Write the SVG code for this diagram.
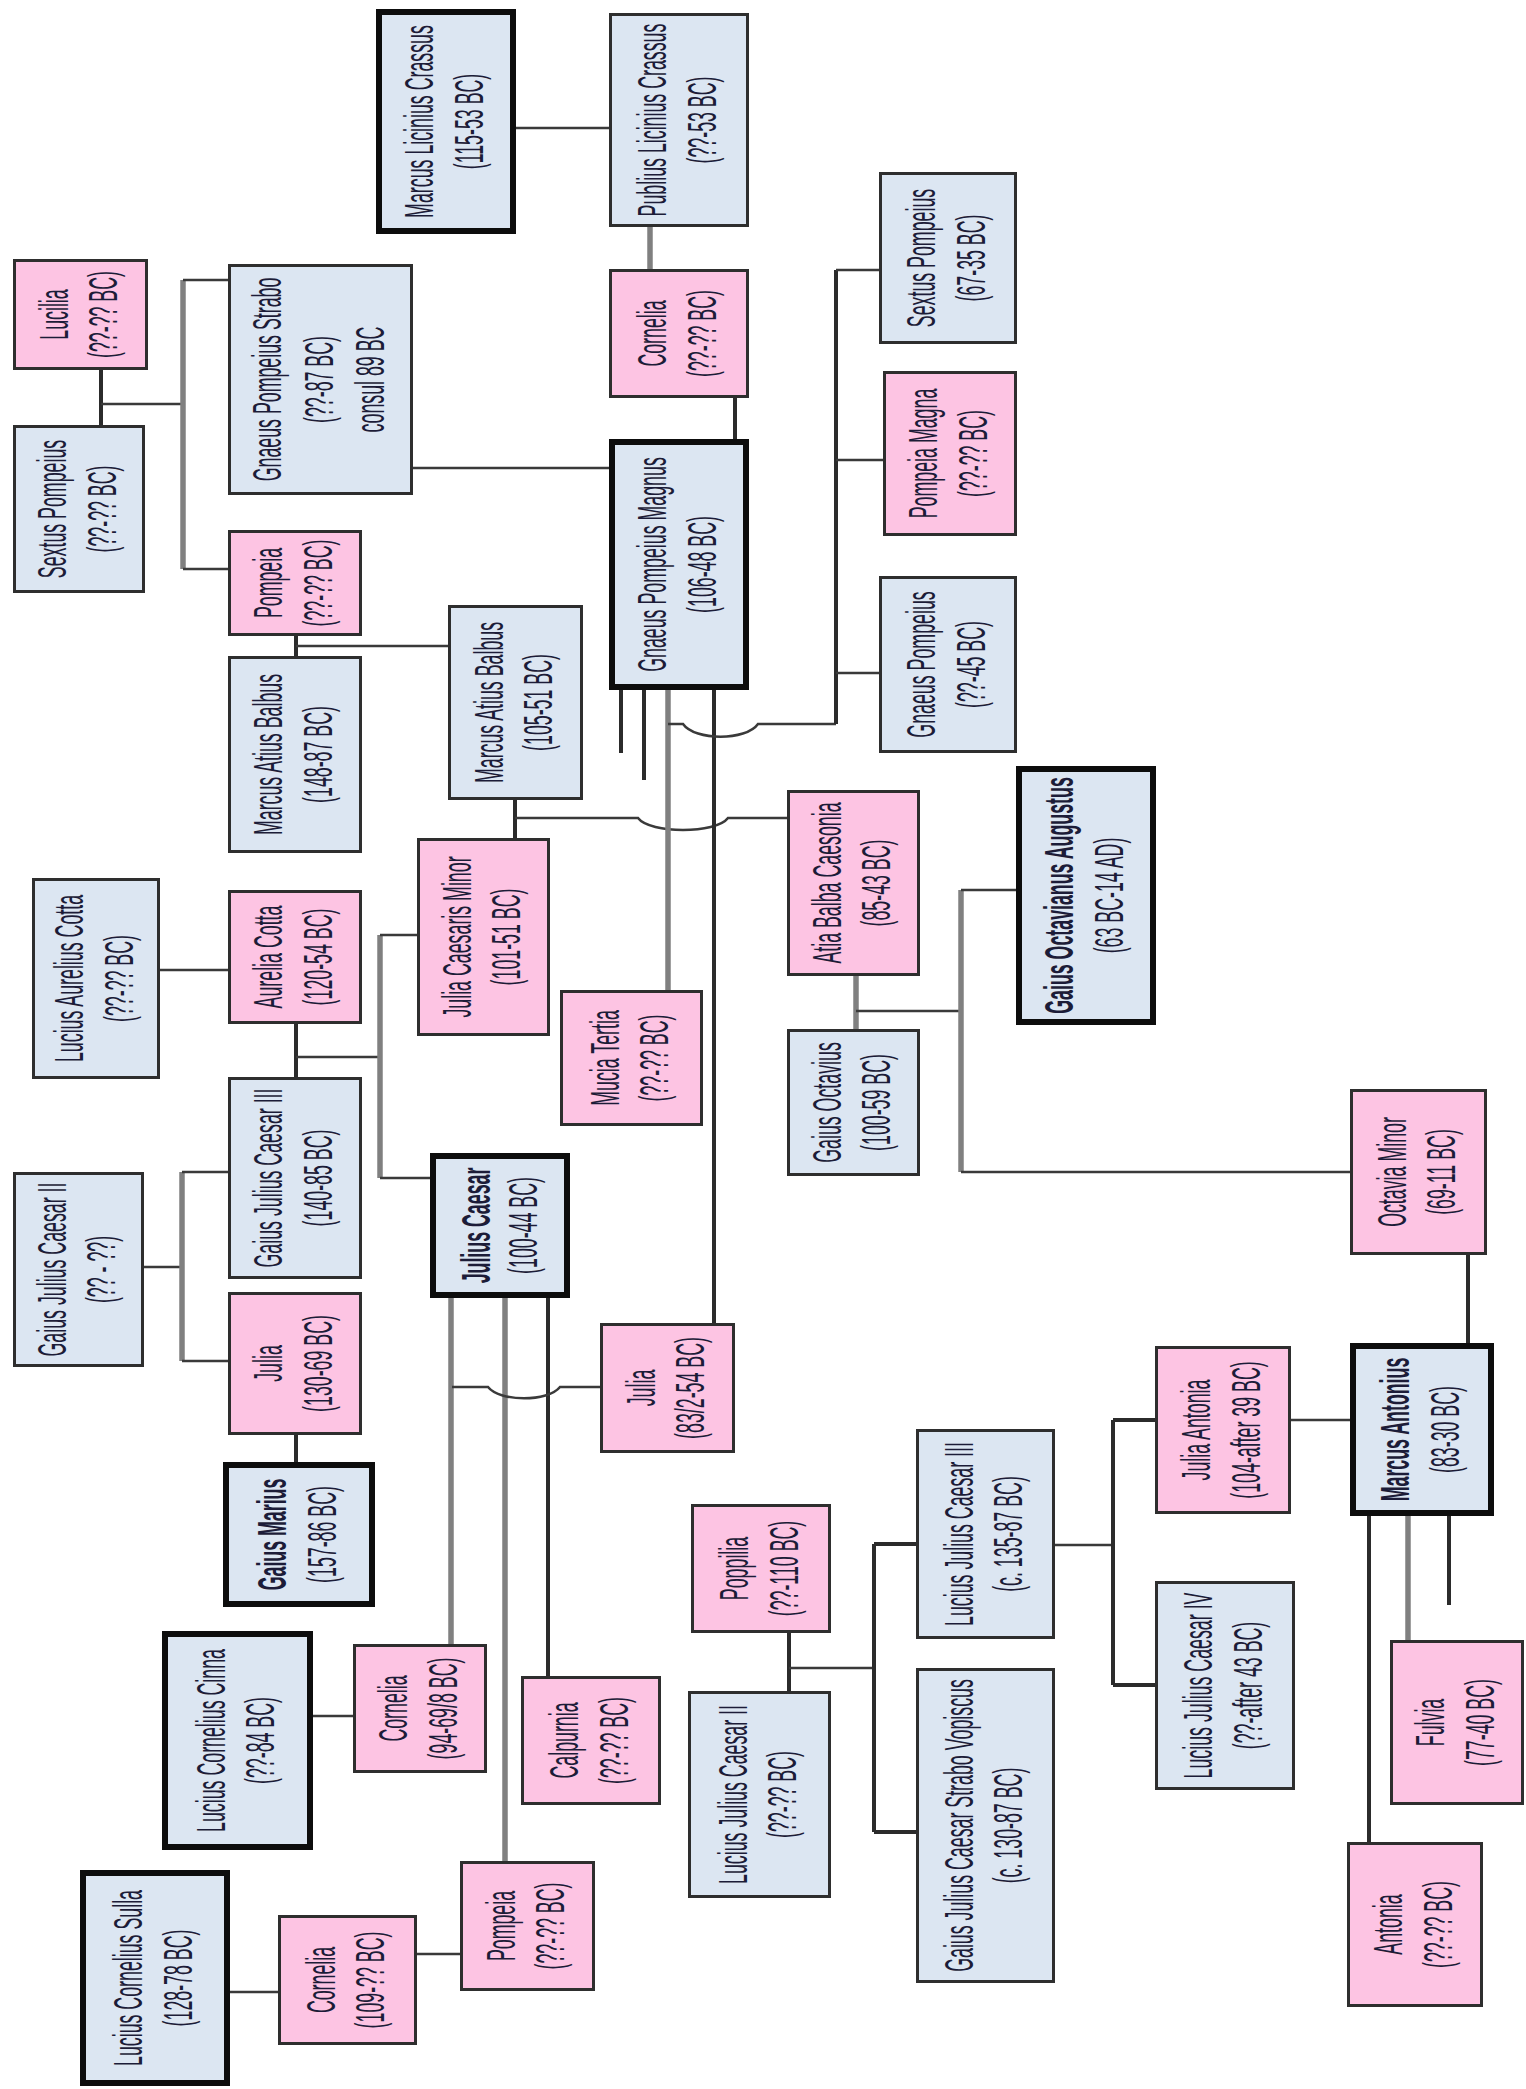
<svg xmlns="http://www.w3.org/2000/svg" width="1526" height="2089" viewBox="0 0 1526 2089">
<style>
.b{fill:#dce6f2;stroke:#2e2e2e;stroke-width:3}
.p{fill:#fdc4e3;stroke:#2e2e2e;stroke-width:3}
.k{stroke:#0d0d0d;stroke-width:6}
text{font-family:"Liberation Sans",Arial,sans-serif;font-size:40px;fill:#1c1c38;text-anchor:middle}
.bd{font-weight:bold}
.th{stroke:#3a3a3a;stroke-width:2.5;fill:none}
.dk{stroke:#2b2b2b;stroke-width:4;fill:none}
.gr{stroke:#808080;stroke-width:5.5;fill:none}
</style>
<rect width="1526" height="2089" fill="#ffffff"/>
<g id="connectors">
<path class="th" d="M516 128H609"/>
<path class="gr" d="M650 227V269"/>
<path class="dk" d="M735 398V439"/>
<path class="th" d="M413 468H609"/>
<path class="dk" d="M101 370V425"/>
<path class="th" d="M101 404H183"/>
<path class="gr" d="M183 280V569"/>
<path class="th" d="M183 280H228M183 569H228"/>
<path class="dk" d="M296 636V656"/>
<path class="th" d="M296 646H448"/>
<path class="dk" d="M515 800V838"/>
<path class="th" d="M515 818H638C650 834 716 834 728 818H787"/>
<path class="gr" d="M668 690V990"/>
<path class="dk" d="M714 690V1323"/>
<path class="dk" d="M621 690V753M644 690V780"/>
<path class="th" d="M668 724H683C695 741 746 741 758 724H836"/>
<path class="dk" d="M836 270V724"/>
<path class="th" d="M836 270H879M836 460H883M836 673H879"/>
<path class="gr" d="M856 976V1029"/>
<path class="th" d="M856 1011H961"/>
<path class="gr" d="M961 890V1172"/>
<path class="th" d="M961 890H1016M961 1172H1350"/>
<path class="th" d="M160 970H228"/>
<path class="dk" d="M296 1024V1077"/>
<path class="th" d="M296 1057H380"/>
<path class="gr" d="M380 935V1178"/>
<path class="th" d="M380 935H417M380 1178H430"/>
<path class="th" d="M144 1267H182"/>
<path class="gr" d="M182 1172V1361"/>
<path class="th" d="M182 1172H228M182 1361H228"/>
<path class="dk" d="M296 1435V1462"/>
<path class="gr" d="M451 1298V1644M505 1298V1861"/>
<path class="dk" d="M548 1298V1676"/>
<path class="th" d="M452 1387H488C500 1402 548 1402 560 1387H600"/>
<path class="th" d="M313 1716H353"/>
<path class="th" d="M230 1992H278"/>
<path class="th" d="M417 1954H460"/>
<path class="dk" d="M789 1633V1691"/>
<path class="th" d="M789 1668H874"/>
<path class="dk" d="M874 1544V1832M874 1544H916M874 1832H916"/>
<path class="th" d="M1055 1545H1113"/>
<path class="dk" d="M1113 1420V1685M1113 1420H1155M1113 1685H1155"/>
<path class="th" d="M1291 1420H1350"/>
<path class="dk" d="M1468 1255V1343"/>
<path class="dk" d="M1369 1516V1842"/>
<path class="gr" d="M1408 1516V1640"/>
<path class="dk" d="M1449 1516V1605"/>
</g>
<g id="n1"><rect class="b k" x="379" y="12" width="134" height="219"/><text transform="translate(446 121.5) rotate(-90) scale(.445 1)"><tspan x="0" y="-13">Marcus Licinius Crassus</tspan><tspan x="0" y="37">(115-53 BC)</tspan></text></g>
<g id="n2"><rect class="b" x="610.5" y="14.5" width="137" height="211"/><text transform="translate(679 120) rotate(-90) scale(.445 1)"><tspan x="0" y="-13">Publius Licinius Crassus</tspan><tspan x="0" y="37">(??-53 BC)</tspan></text></g>
<g id="n3"><rect class="p" x="610.5" y="270.5" width="137" height="126"/><text transform="translate(679 333.5) rotate(-90) scale(.445 1)"><tspan x="0" y="-13">Cornelia</tspan><tspan x="0" y="37">(??-?? BC)</tspan></text></g>
<g id="n4"><rect class="b k" x="612" y="442" width="134" height="245"/><text transform="translate(679 564.5) rotate(-90) scale(.445 1)"><tspan x="0" y="-13">Gnaeus Pompeius Magnus</tspan><tspan x="0" y="37">(106-48 BC)</tspan></text></g>
<g id="n5"><rect class="b" x="880.5" y="173.5" width="135" height="169"/><text transform="translate(948 258) rotate(-90) scale(.445 1)"><tspan x="0" y="-13">Sextus Pompeius</tspan><tspan x="0" y="37">(67-35 BC)</tspan></text></g>
<g id="n6"><rect class="p" x="884.5" y="372.5" width="131" height="162"/><text transform="translate(950 453.5) rotate(-90) scale(.445 1)"><tspan x="0" y="-13">Pompeia Magna</tspan><tspan x="0" y="37">(??-?? BC)</tspan></text></g>
<g id="n7"><rect class="b" x="880.5" y="577.5" width="135" height="174"/><text transform="translate(948 664.5) rotate(-90) scale(.445 1)"><tspan x="0" y="-13">Gnaeus Pompeius</tspan><tspan x="0" y="37">(??-45 BC)</tspan></text></g>
<g id="n8"><rect class="p" x="14.5" y="260.5" width="132" height="108"/><text transform="translate(80.5 314.5) rotate(-90) scale(.445 1)"><tspan x="0" y="-13">Lucilia</tspan><tspan x="0" y="37">(??-?? BC)</tspan></text></g>
<g id="n9"><rect class="b" x="14.5" y="426.5" width="129" height="165"/><text transform="translate(79 509) rotate(-90) scale(.445 1)"><tspan x="0" y="-13">Sextus Pompeius</tspan><tspan x="0" y="37">(??-?? BC)</tspan></text></g>
<g id="n10"><rect class="b" x="229.5" y="265.5" width="182" height="228"/><text transform="translate(320.5 379.5) rotate(-90) scale(.445 1)"><tspan x="0" y="-40">Gnaeus Pompeius Strabo</tspan><tspan x="0" y="12">(??-87 BC)</tspan><tspan x="0" y="64">consul 89 BC</tspan></text></g>
<g id="n11"><rect class="p" x="229.5" y="531.5" width="131" height="103"/><text transform="translate(295 583) rotate(-90) scale(.445 1)"><tspan x="0" y="-13">Pompeia</tspan><tspan x="0" y="37">(??-?? BC)</tspan></text></g>
<g id="n12"><rect class="b" x="229.5" y="657.5" width="131" height="194"/><text transform="translate(295 754.5) rotate(-90) scale(.445 1)"><tspan x="0" y="-13">Marcus Atius Balbus</tspan><tspan x="0" y="37">(148-87 BC)</tspan></text></g>
<g id="n13"><rect class="b" x="449.5" y="606.5" width="132" height="192"/><text transform="translate(515.5 702.5) rotate(-90) scale(.445 1)"><tspan x="0" y="-13">Marcus Atius Balbus</tspan><tspan x="0" y="37">(105-51 BC)</tspan></text></g>
<g id="n14"><rect class="b" x="33.5" y="879.5" width="125" height="198"/><text transform="translate(96 978.5) rotate(-90) scale(.445 1)"><tspan x="0" y="-13">Lucius Aurelius Cotta</tspan><tspan x="0" y="37">(??-?? BC)</tspan></text></g>
<g id="n15"><rect class="p" x="229.5" y="891.5" width="131" height="131"/><text transform="translate(295 957) rotate(-90) scale(.445 1)"><tspan x="0" y="-13">Aurelia Cotta</tspan><tspan x="0" y="37">(120-54 BC)</tspan></text></g>
<g id="n16"><rect class="p" x="418.5" y="839.5" width="130" height="195"/><text transform="translate(483.5 937) rotate(-90) scale(.445 1)"><tspan x="0" y="-13">Julia Caesaris Minor</tspan><tspan x="0" y="37">(101-51 BC)</tspan></text></g>
<g id="n17"><rect class="p" x="561.5" y="991.5" width="140" height="133"/><text transform="translate(631.5 1058) rotate(-90) scale(.445 1)"><tspan x="0" y="-13">Mucia Tertia</tspan><tspan x="0" y="37">(??-?? BC)</tspan></text></g>
<g id="n18"><rect class="p" x="788.5" y="791.5" width="130" height="183"/><text transform="translate(853.5 883) rotate(-90) scale(.445 1)"><tspan x="0" y="-13">Atia Balba Caesonia</tspan><tspan x="0" y="37">(85-43 BC)</tspan></text></g>
<g id="n19"><rect class="b k" x="1019" y="769" width="134" height="253"/><text transform="translate(1086 895.5) rotate(-90) scale(.445 1)"><tspan class="bd" x="0" y="-13">Gaius Octavianus Augustus</tspan><tspan x="0" y="37">(63 BC-14 AD)</tspan></text></g>
<g id="n20"><rect class="b" x="788.5" y="1030.5" width="130" height="144"/><text transform="translate(853.5 1102.5) rotate(-90) scale(.445 1)"><tspan x="0" y="-13">Gaius Octavius</tspan><tspan x="0" y="37">(100-59 BC)</tspan></text></g>
<g id="n21"><rect class="b" x="14.5" y="1173.5" width="128" height="192"/><text transform="translate(78.5 1269.5) rotate(-90) scale(.445 1)"><tspan x="0" y="-13">Gaius Julius Caesar II</tspan><tspan x="0" y="37">(?? - ??)</tspan></text></g>
<g id="n22"><rect class="b" x="229.5" y="1078.5" width="131" height="199"/><text transform="translate(295 1178) rotate(-90) scale(.445 1)"><tspan x="0" y="-13">Gaius Julius Caesar III</tspan><tspan x="0" y="37">(140-85 BC)</tspan></text></g>
<g id="n23"><rect class="b k" x="433" y="1156" width="134" height="139"/><text transform="translate(500 1225.5) rotate(-90) scale(.445 1)"><tspan class="bd" x="0" y="-10">Julius Caesar</tspan><tspan x="0" y="37">(100-44 BC)</tspan></text></g>
<g id="n24"><rect class="p" x="1351.5" y="1090.5" width="134" height="163"/><text transform="translate(1418.5 1172) rotate(-90) scale(.445 1)"><tspan x="0" y="-13">Octavia Minor</tspan><tspan x="0" y="37">(69-11 BC)</tspan></text></g>
<g id="n25"><rect class="p" x="229.5" y="1293.5" width="131" height="140"/><text transform="translate(295 1363.5) rotate(-90) scale(.445 1)"><tspan x="0" y="-13">Julia</tspan><tspan x="0" y="37">(130-69 BC)</tspan></text></g>
<g id="n26"><rect class="p" x="601.5" y="1324.5" width="132" height="127"/><text transform="translate(667.5 1388) rotate(-90) scale(.445 1)"><tspan x="0" y="-13">Julia</tspan><tspan x="0" y="37">(83/2-54 BC)</tspan></text></g>
<g id="n27"><rect class="b k" x="226" y="1465" width="146" height="139"/><text transform="translate(299 1534.5) rotate(-90) scale(.445 1)"><tspan class="bd" x="0" y="-13">Gaius Marius</tspan><tspan x="0" y="37">(157-86 BC)</tspan></text></g>
<g id="n28"><rect class="p" x="1156.5" y="1347.5" width="133" height="165"/><text transform="translate(1223 1430) rotate(-90) scale(.445 1)"><tspan x="0" y="-13">Julia Antonia</tspan><tspan x="0" y="37">(104-after 39 BC)</tspan></text></g>
<g id="n29"><rect class="b k" x="1353" y="1346" width="138" height="167"/><text transform="translate(1422 1429.5) rotate(-90) scale(.445 1)"><tspan class="bd" x="0" y="-13">Marcus Antonius</tspan><tspan x="0" y="37">(83-30 BC)</tspan></text></g>
<g id="n30"><rect class="b" x="917.5" y="1430.5" width="136" height="207"/><text transform="translate(985.5 1534) rotate(-90) scale(.445 1)"><tspan x="0" y="-13">Lucius Julius Caesar III</tspan><tspan x="0" y="37">(c. 135-87 BC)</tspan></text></g>
<g id="n31"><rect class="p" x="692.5" y="1505.5" width="137" height="126"/><text transform="translate(761 1568.5) rotate(-90) scale(.445 1)"><tspan x="0" y="-13">Poppilia</tspan><tspan x="0" y="37">(??-110 BC)</tspan></text></g>
<g id="n32"><rect class="b k" x="165" y="1634" width="145" height="213"/><text transform="translate(237.5 1740.5) rotate(-90) scale(.445 1)"><tspan x="0" y="-13">Lucius Cornelius Cinna</tspan><tspan x="0" y="37">(??-84 BC)</tspan></text></g>
<g id="n33"><rect class="p" x="354.5" y="1645.5" width="131" height="126"/><text transform="translate(420 1708.5) rotate(-90) scale(.445 1)"><tspan x="0" y="-13">Cornelia</tspan><tspan x="0" y="37">(94-69/8 BC)</tspan></text></g>
<g id="n34"><rect class="p" x="522.5" y="1677.5" width="137" height="126"/><text transform="translate(591 1740.5) rotate(-90) scale(.445 1)"><tspan x="0" y="-13">Calpurnia</tspan><tspan x="0" y="37">(??-?? BC)</tspan></text></g>
<g id="n35"><rect class="b" x="689.5" y="1692.5" width="140" height="204"/><text transform="translate(759.5 1794.5) rotate(-90) scale(.445 1)"><tspan x="0" y="-13">Lucius Julius Caesar II</tspan><tspan x="0" y="37">(??-?? BC)</tspan></text></g>
<g id="n36"><rect class="b" x="917.5" y="1669.5" width="136" height="312"/><text transform="translate(985.5 1825.5) rotate(-90) scale(.445 1)"><tspan x="0" y="-13">Gaius Julius Caesar Strabo Vopiscus</tspan><tspan x="0" y="37">(c. 130-87 BC)</tspan></text></g>
<g id="n37"><rect class="b" x="1156.5" y="1582.5" width="137" height="206"/><text transform="translate(1225 1685.5) rotate(-90) scale(.445 1)"><tspan x="0" y="-13">Lucius Julius Caesar IV</tspan><tspan x="0" y="37">(??-after 43 BC)</tspan></text></g>
<g id="n38"><rect class="p" x="1391.5" y="1641.5" width="131" height="162"/><text transform="translate(1457 1722.5) rotate(-90) scale(.445 1)"><tspan x="0" y="-13">Fulvia</tspan><tspan x="0" y="37">(77-40 BC)</tspan></text></g>
<g id="n39"><rect class="b k" x="83" y="1873" width="144" height="210"/><text transform="translate(155 1978) rotate(-90) scale(.445 1)"><tspan x="0" y="-13">Lucius Cornelius Sulla</tspan><tspan x="0" y="37">(128-78 BC)</tspan></text></g>
<g id="n40"><rect class="p" x="279.5" y="1916.5" width="136" height="127"/><text transform="translate(347.5 1980) rotate(-90) scale(.445 1)"><tspan x="0" y="-13">Cornelia</tspan><tspan x="0" y="37">(109-?? BC)</tspan></text></g>
<g id="n41"><rect class="p" x="461.5" y="1862.5" width="132" height="127"/><text transform="translate(527.5 1926) rotate(-90) scale(.445 1)"><tspan x="0" y="-13">Pompeia</tspan><tspan x="0" y="37">(??-?? BC)</tspan></text></g>
<g id="n42"><rect class="p" x="1348.5" y="1843.5" width="133" height="162"/><text transform="translate(1415 1924.5) rotate(-90) scale(.445 1)"><tspan x="0" y="-13">Antonia</tspan><tspan x="0" y="37">(??-?? BC)</tspan></text></g>
</svg>
